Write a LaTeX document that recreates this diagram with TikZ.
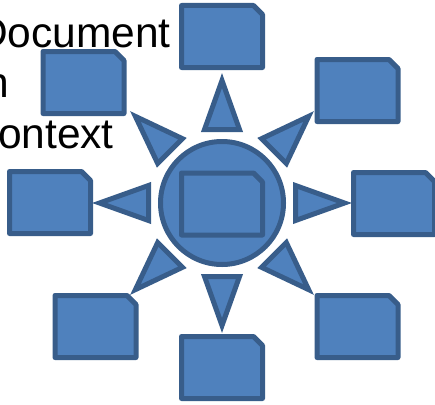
\documentclass[tikz,border=0pt]{standalone}
\usepackage{fontspec}
\setmainfont{Liberation Sans}
\tikzset{
  shapebase/.style={fill=shapefill,draw=shapeline,line width=5pt},
  snipbox/.style={shapebase,line join=round},
  pointer/.style={shapebase,line join=miter,miter limit=10},
  bigtext/.style={font=\fontsize{42.5}{50}\selectfont,text=black,inner sep=0pt}
}
\definecolor{shapefill}{HTML}{4F81BD}
\definecolor{shapeline}{HTML}{385D8A}
% #1,#2: outer top-left corner of an 86 x 67 box
\newcommand{\snipcard}[2]{%
  \draw[snipbox] (#1+2.5,#2+2.5) -- (#1+74.5,#2+2.5) -- (#1+83.5,#2+11.5)
    -- (#1+83.5,#2+64.5) -- (#1+2.5,#2+64.5) -- cycle;}
\begin{document}
\begin{tikzpicture}[x=1pt,y=-1pt]
\useasboundingbox (0,0) rectangle (435,404);
\clip (0,0) rectangle (435,404);
\node[bigtext,anchor=base east] (line1) at (171,47.5) {Document};
\node[bigtext,anchor=base east] (line2) at (9,97.5) {n};
\node[bigtext,anchor=base east] (line3) at (114,148) {ontext};
\snipcard{179}{3}
\snipcard{40.5}{49}
\snipcard{314.5}{57}
\snipcard{7}{169}
\snipcard{351}{170}
\snipcard{52.5}{293}
\snipcard{314.5}{293}
\snipcard{179}{334}
\foreach \a in {0,45,...,315}{
  \draw[pointer,rotate around={\a:(222,203)}]
    (222,80.5) -- (239.5,129.5) -- (204.5,129.5) -- cycle;
}
\draw[shapebase] (222,203) circle[radius=61.5pt];
\snipcard{179}{170.5}
\end{tikzpicture}
\end{document}
